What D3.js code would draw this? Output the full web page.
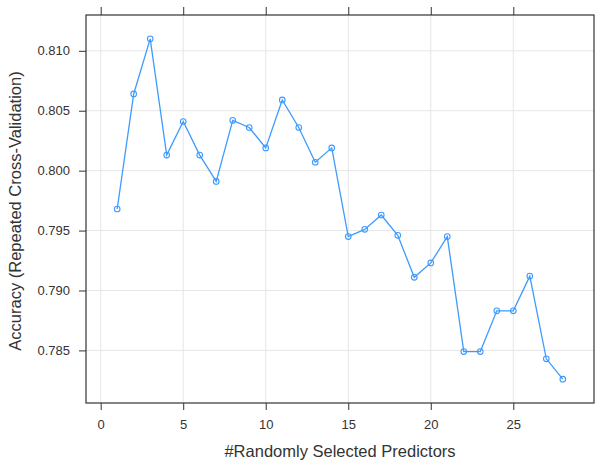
<!DOCTYPE html>
<html>
<head>
<meta charset="utf-8">
<script src="https://cdnjs.cloudflare.com/ajax/libs/d3/7.8.5/d3.min.js"></script>
<style>
  body { margin: 0; background: #fff; }
  text { font-family: "Liberation Sans", Arial, sans-serif; fill: #333; }
</style>
</head>
<body>
<div id="chart"></div>
<script>
var predictors = [1, 2, 3, 4, 5, 6, 7, 8, 9, 10, 11, 12, 13, 14,
                  15, 16, 17, 18, 19, 20, 21, 22, 23, 24, 25, 26, 27, 28];
var accuracy = [0.7968, 0.8064, 0.8110, 0.8013, 0.8041, 0.8013, 0.7991, 0.8042, 0.8036, 0.8019,
                0.8059, 0.8036, 0.8007, 0.8019, 0.7945, 0.7951, 0.7963, 0.7946, 0.7911, 0.7923,
                0.7945, 0.7849, 0.7849, 0.7883, 0.7883, 0.7912, 0.7843, 0.7826];
var xTicks = [0, 5, 10, 15, 20, 25];
var yTicks = [0.785, 0.790, 0.795, 0.800, 0.805, 0.810];

draw_chart();
function draw_chart(){
    var W = 595, H = 464;
    var margin = {top: 15, right: 1, bottom: 61, left: 86},
      width = W - margin.left - margin.right,
      height = H - margin.top - margin.bottom;

    var svg = d3.select("#chart")
      .append("svg")
      .attr("width", W)
      .attr("height", H);

    var g = svg.append("g")
      .attr("transform", "translate(" + margin.left + "," + margin.top + ")");

    // lattice style: pad range by 7% each side
    var xr = d3.extent(predictors), yr = d3.extent(accuracy);
    var xp = (xr[1] - xr[0]) * 0.07, yp = (yr[1] - yr[0]) * 0.07;
    var x = d3.scaleLinear().domain([xr[0] - xp, xr[1] + xp]).range([0, width]);
    var y = d3.scaleLinear().domain([yr[0] - yp, yr[1] + yp]).range([height, 0]);

    // grid
    g.selectAll(".vgrid").data(xTicks).enter().append("line")
      .attr("x1", d => x(d)).attr("x2", d => x(d))
      .attr("y1", 0).attr("y2", height)
      .attr("stroke", "#e6e6e6").attr("stroke-width", 1);
    g.selectAll(".hgrid").data(yTicks).enter().append("line")
      .attr("y1", d => y(d)).attr("y2", d => y(d))
      .attr("x1", 0).attr("x2", width)
      .attr("stroke", "#e6e6e6").attr("stroke-width", 1);

    // axes
    var axisStyle = function(sel){
        sel.select(".domain").remove();
        sel.selectAll(".tick line").attr("stroke", "#333");
        sel.selectAll(".tick text").style("font-size", "13px").attr("fill", "#333");
    };
    g.append("g").attr("transform", "translate(0," + height + ")")
      .call(d3.axisBottom(x).tickValues(xTicks).tickSize(7).tickPadding(10).tickFormat(d3.format("d")))
      .call(axisStyle);
    g.append("g")
      .call(d3.axisTop(x).tickValues(xTicks).tickSize(8).tickFormat(""))
      .call(axisStyle);
    g.append("g")
      .call(d3.axisLeft(y).tickValues(yTicks).tickSize(7).tickPadding(9).tickFormat(d3.format(".3f")))
      .call(axisStyle);

    // panel border
    g.append("rect")
      .attr("width", width).attr("height", height)
      .attr("fill", "none").attr("stroke", "#333").attr("stroke-width", 1.2);

    // line + points
    var pts = predictors.map((p, i) => [p, accuracy[i]]);
    g.append("path")
      .datum(pts)
      .attr("fill", "none")
      .attr("stroke", "#3d9bff")
      .attr("stroke-width", 1.3)
      .attr("d", d3.line().x(d => x(d[0])).y(d => y(d[1])));
    g.selectAll(".pt").data(pts).enter().append("circle")
      .attr("cx", d => x(d[0])).attr("cy", d => y(d[1]))
      .attr("r", 2.8)
      .attr("fill", "none")
      .attr("stroke", "#3d9bff")
      .attr("stroke-width", 1.1);

    // titles
    svg.append("text")
      .attr("x", 340)
      .attr("y", 457)
      .attr("text-anchor", "middle")
      .style("font-size", "16.5px")
      .text("#Randomly Selected Predictors");
    svg.append("text")
      .attr("transform", "translate(21,211) rotate(-90)")
      .attr("text-anchor", "middle")
      .style("font-size", "16.5px")
      .text("Accuracy (Repeated Cross-Validation)");
}
</script>
</body>
</html>
